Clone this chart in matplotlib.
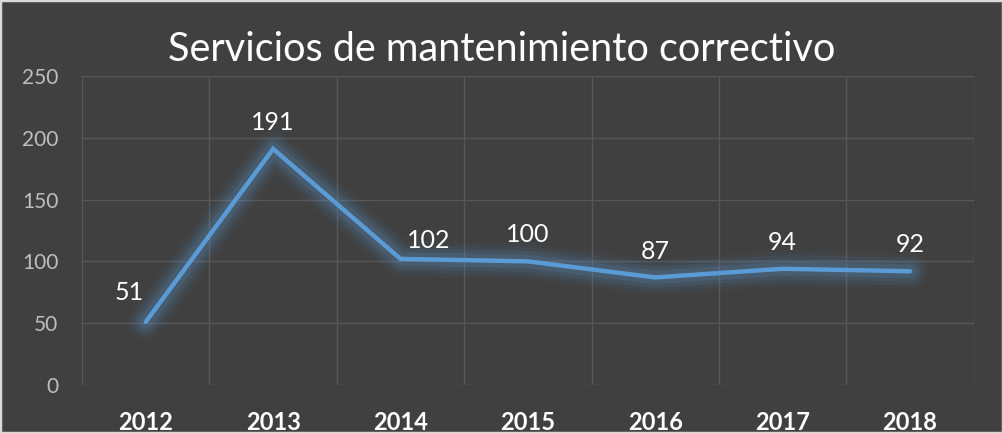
import matplotlib.pyplot as plt
from matplotlib.patches import Rectangle

years = ["2012", "2013", "2014", "2015", "2016", "2017", "2018"]
servicios = [51, 191, 102, 100, 87, 94, 92]
# label offsets in points (dx, dy)
label_offsets = [(-12, 21), (0, 19), (20, 13), (0, 19), (0, 19), (0, 19), (0, 19)]

bg = "#404040"
blue = "#5B9BD5"
grid_c = "#575757"

plt.rcParams["font.family"] = ["Lato", "DejaVu Sans"]

fig = plt.figure(figsize=(10.03, 4.33), dpi=100, facecolor=bg)
ax = fig.add_axes([0.0818, 0.111, 0.889, 0.7135], facecolor=bg)

x = list(range(len(years)))

# soft glow under the line
for w, a in [(26, 0.05), (20, 0.07), (15, 0.10), (10, 0.14)]:
    ax.plot(x, servicios, color=blue, lw=w, alpha=a, solid_capstyle="round",
            solid_joinstyle="round", zorder=2)
ax.plot(x, servicios, color=blue, lw=3.2, solid_capstyle="round",
        solid_joinstyle="miter", zorder=3)

for xi, v, (dx, dy) in zip(x, servicios, label_offsets):
    ax.annotate(str(v), (xi, v), xytext=(dx, dy), textcoords="offset points",
                ha="center", va="center", color="white", fontsize=18, zorder=4)

ax.set_xlim(-0.5, len(years) - 0.5)
ax.set_ylim(0, 250)
ax.set_yticks([0, 50, 100, 150, 200, 250])
ax.set_xticks(x)
ax.set_xticklabels(years, fontsize=17, fontweight="bold", color="white")
ax.set_xticks([i - 0.5 for i in range(len(years) + 1)], minor=True)
ax.tick_params(axis="x", which="both", length=0, pad=19)
ax.tick_params(axis="y", length=0, pad=17, labelsize=15, labelcolor="#BFBFBF")

ax.grid(axis="y", which="major", color=grid_c, lw=1)
ax.grid(axis="x", which="minor", color=grid_c, lw=1)
ax.grid(axis="x", which="major", visible=False)
ax.set_axisbelow(True)
for s in ax.spines.values():
    s.set_visible(False)

fig.text(0.5, 0.885, "Servicios de mantenimiento correctivo", ha="center",
         va="center", color="white", fontsize=28.5)

# thin light frame around the chart
fig.patches.append(Rectangle((0, 0), 1, 1, transform=fig.transFigure,
                             fill=False, edgecolor="#D9D9D9", lw=2.5))

fig.savefig("out.png", dpi=100, facecolor=bg)
